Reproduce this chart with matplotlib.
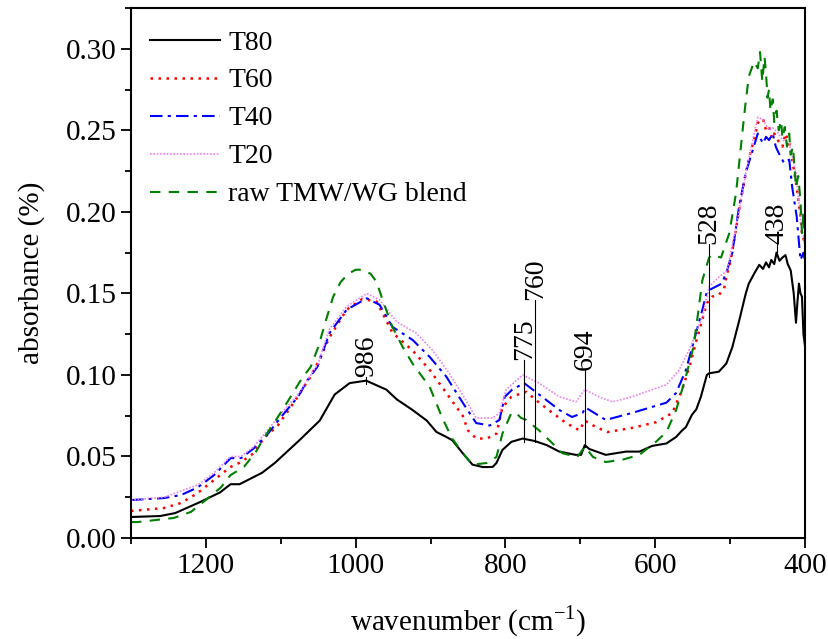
import numpy as np
import matplotlib
matplotlib.use("Agg")
import matplotlib.pyplot as plt

plt.rcParams['font.family'] = ['Liberation Serif', 'DejaVu Serif']
plt.rcParams['mathtext.fontset'] = 'custom'
plt.rcParams['mathtext.rm'] = 'Liberation Serif'

# T80
w80 = [1300, 1261, 1241, 1208, 1181, 1167, 1155, 1125, 1108, 1075, 1048, 1028, 1008, 986, 959, 945,
       924, 905, 892, 879, 871, 857, 844, 830, 817, 812, 804, 792, 777, 761, 745, 728, 706, 699, 694,
       688, 666, 639, 621, 604, 585, 572, 564, 559, 551, 545, 539, 531, 528, 515, 505, 497, 488, 479,
       475, 468, 461, 456, 452, 448, 445, 441, 438, 434, 430, 426, 423, 419, 415, 412, 410, 408, 406,
       404, 402, 400]
a80 = [0.0129, 0.0135, 0.0153, 0.022, 0.028, 0.033, 0.033, 0.040, 0.046, 0.060, 0.072, 0.088, 0.095,
       0.0965, 0.091, 0.085, 0.0785, 0.072, 0.065, 0.062, 0.060, 0.052, 0.045, 0.0435, 0.0436, 0.046,
       0.054, 0.059, 0.061, 0.0595, 0.057, 0.053, 0.051, 0.051, 0.057, 0.0546, 0.051, 0.053, 0.053,
       0.0565, 0.058, 0.062, 0.066, 0.068, 0.0755, 0.079, 0.0866, 0.100, 0.101, 0.102, 0.107, 0.117,
       0.133, 0.150, 0.156, 0.162, 0.1675, 0.165, 0.169, 0.166, 0.1705, 0.168, 0.175, 0.170, 0.172,
       0.1735, 0.168, 0.164, 0.150, 0.132, 0.145, 0.156, 0.150, 0.148, 0.125, 0.118]

# T60
w60 = [1300, 1256, 1233, 1211, 1189, 1167, 1153, 1136, 1123, 1104, 1083, 1060, 1050, 1035, 1012, 991,
       972, 951, 924, 901, 879, 857, 850, 839, 825, 812, 804, 792, 777, 772, 755, 737, 719, 701, 694,
       679, 664, 631, 599, 577, 564, 553, 545, 537, 531, 524, 515, 508, 504, 499, 488, 479, 473, 467,
       463, 456, 452, 448, 444, 441, 435, 430, 426, 421, 417, 411, 406, 404, 400]
a60 = [0.0166, 0.0184, 0.0215, 0.0276, 0.0356, 0.0436, 0.0466, 0.052, 0.061, 0.069, 0.0828, 0.099,
       0.108, 0.123, 0.140, 0.1466, 0.145, 0.126, 0.115, 0.103, 0.089, 0.075, 0.066, 0.061, 0.061,
       0.064, 0.080, 0.0866, 0.089, 0.0896, 0.083, 0.0767, 0.0705, 0.066, 0.072, 0.068, 0.065, 0.0675,
       0.071, 0.0767, 0.091, 0.107, 0.121, 0.134, 0.144, 0.148, 0.149, 0.153, 0.162, 0.1705, 0.201,
       0.224, 0.236, 0.246, 0.2546, 0.257, 0.250, 0.252, 0.245, 0.248, 0.243, 0.240, 0.248, 0.242,
       0.232, 0.215, 0.197, 0.187, 0.18]

# T40
w40 = [1300, 1256, 1233, 1211, 1189, 1167, 1153, 1136, 1117, 1100, 1077, 1064, 1051, 1035, 1012, 985,
       968, 951, 924, 901, 879, 857, 839, 821, 808, 801, 791, 775, 751, 728, 711, 697, 693, 666, 631,
       585, 572, 559, 549, 537, 531, 524, 511, 504, 497, 488, 479, 471, 463, 456, 452, 448, 443, 439,
       435, 428, 421, 417, 411, 406, 402, 400]
a40 = [0.0233, 0.0245, 0.0264, 0.031, 0.0386, 0.049, 0.049, 0.055, 0.064, 0.074, 0.0866, 0.097, 0.105,
       0.1256, 0.140, 0.147, 0.143, 0.1295, 0.1215, 0.111, 0.099, 0.083, 0.0705, 0.069, 0.0724, 0.0865,
       0.091, 0.095, 0.0866, 0.0785, 0.0742, 0.0767, 0.080, 0.0724, 0.0767, 0.083, 0.089, 0.103, 0.1196,
       0.140, 0.151, 0.153, 0.156, 0.164, 0.175, 0.203, 0.224, 0.236, 0.248, 0.242, 0.246, 0.244,
       0.248, 0.240, 0.236, 0.230, 0.232, 0.215, 0.197, 0.1705, 0.175, 0.17]

# T20
w20 = [1300, 1256, 1211, 1189, 1167, 1153, 1136, 1100, 1077, 1050, 1035, 1012, 985, 968, 945, 919, 897,
       875, 853, 839, 817, 808, 799, 777, 755, 728, 706, 694, 675, 657, 631, 585, 568, 553, 537, 528,
       515, 504, 488, 479, 463, 456, 448, 443, 435, 430, 421, 412, 406, 400]
a20 = [0.0233, 0.025, 0.0325, 0.040, 0.050, 0.050, 0.056, 0.076, 0.088, 0.107, 0.128, 0.142, 0.150,
       0.146, 0.1325, 0.1256, 0.115, 0.101, 0.0847, 0.0736, 0.0736, 0.0767, 0.091, 0.100, 0.095, 0.0866,
       0.0835, 0.091, 0.0866, 0.0835, 0.0866, 0.094, 0.103, 0.117, 0.1356, 0.154, 0.160, 0.164, 0.200,
       0.224, 0.258, 0.2565, 0.250, 0.2515, 0.248, 0.244, 0.242, 0.224, 0.195, 0.18]

# raw TMW/WG blend
wraw = [1300, 1291, 1243, 1220, 1197, 1180, 1167, 1149, 1133, 1123, 1109, 1091, 1073, 1060, 1050, 1040,
        1030, 1020, 1010, 1000, 990, 980, 972, 964, 951, 937, 924, 901, 884, 871, 857, 844, 825, 812,
        804, 792, 786, 779, 772, 755, 737, 724, 704, 694, 683, 666, 644, 621, 599, 585, 572, 559, 549,
        543, 537, 532, 528, 524, 512, 501, 492, 486, 480, 475, 468, 463, 460, 457, 454, 452, 450, 448,
        446, 443, 441, 438, 435, 432, 430, 427, 424, 421, 419, 416, 412, 409, 406, 404, 402, 400]
araw = [0.0098, 0.0098, 0.0123, 0.016, 0.0245, 0.031, 0.0386, 0.0437, 0.053, 0.061, 0.0705, 0.0835,
        0.097, 0.105, 0.117, 0.133, 0.148, 0.157, 0.162, 0.1645, 0.1645, 0.162, 0.157, 0.146, 0.1295,
        0.117, 0.107, 0.0926, 0.0733, 0.061, 0.052, 0.045, 0.046, 0.0497, 0.064, 0.0767, 0.0767, 0.0736,
        0.0724, 0.066, 0.058, 0.052, 0.0497, 0.056, 0.0497, 0.0466, 0.048, 0.051, 0.059, 0.065, 0.0785,
        0.099, 0.117, 0.137, 0.158, 0.166, 0.172, 0.1736, 0.172, 0.187, 0.2116, 0.238, 0.264, 0.283,
        0.292, 0.288, 0.298, 0.280, 0.295, 0.285, 0.270, 0.275, 0.262, 0.269, 0.255, 0.262, 0.250,
        0.256, 0.245, 0.252, 0.240, 0.248, 0.235, 0.240, 0.215, 0.222, 0.207, 0.187, 0.20, 0.18]

# peak marks: wavenumber, line bottom, line top
peaks = ['986', '775', '760', '694', '528', '438']
peak_w = [986, 775, 760, 694, 528, 438]
peak_lo = [0.0945, 0.059, 0.059, 0.056, 0.099, 0.1755]
peak_hi = [0.099, 0.109, 0.146, 0.103, 0.180, 0.180]

fig = plt.figure(figsize=(8.29, 6.39), dpi=100)
ax = fig.add_axes([0.158, 0.158, 0.813, 0.8295])

ax.plot(w80, a80, color='black', lw=1.5, label='T80')
ax.plot(w60, a60, color='red', lw=1.8, ls=(0, (1, 2.2)), label='T60')
ax.plot(w40, a40, color='blue', lw=1.5, ls=(0, (6, 2.5, 1.5, 2.5)), label='T40')
ax.plot(w20, a20, color='violet', lw=1.2, ls=(0, (1, 1)), label='T20')
ax.plot(wraw, araw, color='green', lw=1.5, ls=(0, (5, 4)), label='raw TMW/WG blend')

for name, w, lo, hi in zip(peaks, peak_w, peak_lo, peak_hi):
    ax.plot([w, w], [lo, hi], color='black', lw=0.8)
    ax.text(w, hi, name, rotation=90, ha='center', va='bottom', fontsize=20)

ax.set_xlim(1300, 400)
ax.set_ylim(0, 0.325)
ax.set_xticks([1200, 1000, 800, 600, 400])
ax.set_xticks(np.arange(1300, 399, -100), minor=True)
ax.set_yticks(np.arange(0, 0.31, 0.05))
ax.set_yticks(np.arange(0, 0.326, 0.025), minor=True)
ax.yaxis.set_major_formatter(matplotlib.ticker.FormatStrFormatter('%.2f'))
ax.tick_params(which='major', direction='out', length=7, width=1.3, labelsize=21)
ax.tick_params(which='minor', direction='out', length=4, width=1.3)
for sp in ax.spines.values():
    sp.set_linewidth(1.5)

ax.set_xlabel('wavenumber (cm$^{\\mathregular{-1}}$)', fontsize=21, labelpad=18)
ax.set_ylabel('absorbance (%)', fontsize=21, labelpad=15)

ax.legend(loc='upper left', frameon=False, fontsize=20, handlelength=2.5,
          labelspacing=0.45, borderaxespad=0.3, handletextpad=0.3, bbox_to_anchor=(0.0, 0.995))

fig.savefig('out.png', dpi=100)
